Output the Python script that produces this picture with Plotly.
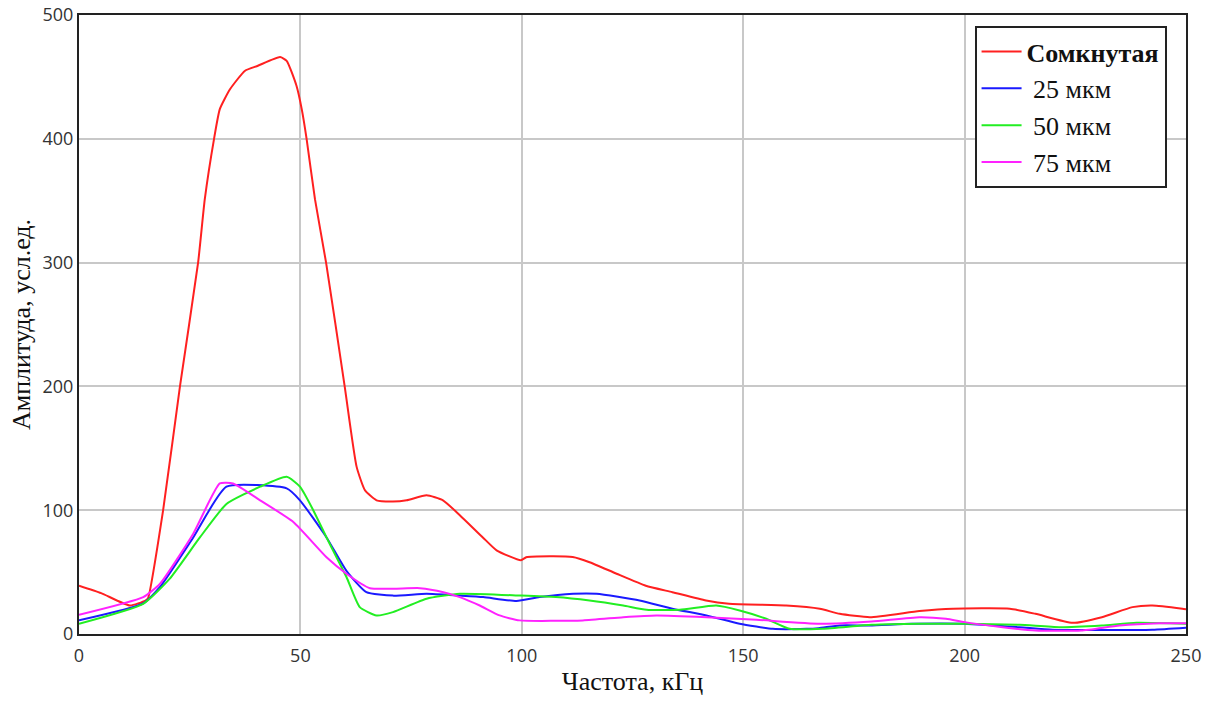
import plotly.graph_objects as go

# Red: "Сомкнутая"
red_x = [0, 5, 11.5, 15, 15.6, 19, 22.8, 26.9, 28.4, 30.5, 31.8, 34.1, 37.5, 40.4, 45.4, 46.9,
         49.1, 50.3, 51.4, 53.3, 55.8, 60, 62.7, 64.6, 67.2, 70.9, 74, 78.5, 82.2, 86, 91.2, 94.3,
         99.8, 101, 106.3, 111.5, 115.3, 121.4, 128, 134, 141.6, 146.8, 159.7, 167.3, 171.8,
         178.6, 189.8, 197.4, 210.2, 216, 224.4, 231, 237.9, 242.4, 249.2, 250]
red_y = [39, 33, 23, 27, 29, 100, 200, 300, 351, 400, 424, 440, 455, 459, 466, 463,
         443, 424, 400, 351, 300, 200, 135, 116, 108, 107, 108, 112, 108, 96, 78, 67.6,
         59.5, 62, 62.8, 62.2, 58, 48.7, 39, 33.8, 27, 24.4, 23, 20.4, 16.3,
         13.6, 18.5, 20.4, 20.4, 16.3, 9, 13.6, 21.7, 23, 20.4, 20]

# Blue: 25 мкм
blue_x = [0, 14.5, 18.3, 25.8, 33.3, 46.9, 49.9, 55.9, 60.4, 64.9, 70.9, 78.5, 86, 91.3, 98.8,
          104, 111.6, 116.9, 126.6, 134, 141.7, 149.2, 156.7, 164.3, 167, 171.8, 178.6, 188,
          200, 212.4, 219.9, 242.4, 250]
blue_y = [11, 24.7, 38, 78, 119, 117.6, 108, 78, 51, 33.8, 31, 32.5, 31, 29.8, 26.6,
          29.8, 32.5, 32.5, 27, 20.4, 15, 8.3, 4.2, 4.2, 4.7, 6.9, 6.9, 8.3,
          8.3, 5.5, 3.4, 3.4, 5]

# Green: 50 мкм
green_x = [0, 14.5, 20.5, 27.3, 33.3, 40.9, 46.9, 49.9, 52.9, 55.9, 60.4, 63.4, 67.2, 70.9,
           78.5, 86, 99.8, 107.7, 115.3, 122.9, 128.2, 135.7, 143.9, 149.2, 155.2, 160.5,
           168, 179, 189.8, 200, 212.4, 221.4, 231, 238.8, 250]
green_y = [8.3, 24.4, 44.7, 78, 105, 119, 127, 119, 100, 78, 46, 21.7, 15, 17.7,
           28.5, 32.5, 31, 29.8, 27, 23, 19.6, 19.6, 23, 19, 12.3, 4.2,
           4.2, 7.4, 8.3, 8.3, 7.4, 5.5, 6.9, 9, 8.3]

# Magenta: 75 мкм
mag_x = [0, 14.5, 18.3, 25.8, 31.8, 34.8, 40.9, 48.4, 55.9, 60.4, 65.7, 77, 82.3, 86, 90.5,
         95, 99.5, 113.8, 122.9, 130.4, 141.7, 153, 167.3, 179, 189.8, 195.8, 200, 208.6,
         216, 226.3, 235, 244, 250]
mag_y = [15.5, 29.8, 40.6, 81, 121.6, 121.6, 108, 90.5, 62, 48.7, 37, 37, 33.8, 29.8, 23,
         15, 11, 11, 13.6, 15, 13.6, 11.5, 8.3, 10.1, 13.6, 12.3, 9.6, 5.5,
         2.8, 2.8, 6.9, 8.7, 8.7]

names = ["<b>Сомкнутая</b>", " 25 мкм", " 50 мкм", " 75 мкм"]
colors = ["#ff2020", "#1a1aff", "#22ee22", "#ff22ff"]

fig = go.Figure()
for i, ((xs, ys), name, col) in enumerate(zip(
        [(red_x, red_y), (blue_x, blue_y), (green_x, green_y), (mag_x, mag_y)], names, colors)):
    fig.add_trace(go.Scatter(x=xs, y=ys, mode="lines", name=name,
                             line=dict(color=col, width=2, shape="spline", smoothing=0.5)))

fig.update_layout(
    width=1221, height=701,
    margin=dict(l=79, r=35, t=15, b=67),
    paper_bgcolor="white", plot_bgcolor="white",
    font=dict(family="Liberation Serif", color="#111"),
    xaxis=dict(range=[0, 250], tickvals=[0, 50, 100, 150, 200, 250], automargin=False,
               showgrid=True, gridcolor="#c8c8c8", gridwidth=1.5,
               showline=True, linecolor="#222", linewidth=2, mirror=True,
               ticks="outside", ticklen=4, tickcolor="rgba(0,0,0,0)", zeroline=False,
               tickfont=dict(family="Open Sans", size=18, color="#333"),
               title=dict(text="Частота, кГц", font=dict(family="Liberation Serif", size=26), standoff=6)),
    yaxis=dict(range=[0, 500], tickvals=[0, 100, 200, 300, 400, 500], automargin=False,
               showgrid=True, gridcolor="#c8c8c8", gridwidth=1.5,
               showline=True, linecolor="#222", linewidth=2, mirror=True,
               ticks="", zeroline=False,
               tickfont=dict(family="Open Sans", size=18, color="#333"),
               title=dict(text="Амплитуда, усл.ед.", font=dict(family="Liberation Serif", size=26), standoff=4)),
    legend=dict(x=0.809, y=0.982, xanchor="left", yanchor="top",
                bgcolor="white", bordercolor="#222", borderwidth=2,
                font=dict(family="Liberation Serif", size=26, color="#111"),
                itemwidth=40),
    showlegend=True,
)

fig.write_html("out.html")
